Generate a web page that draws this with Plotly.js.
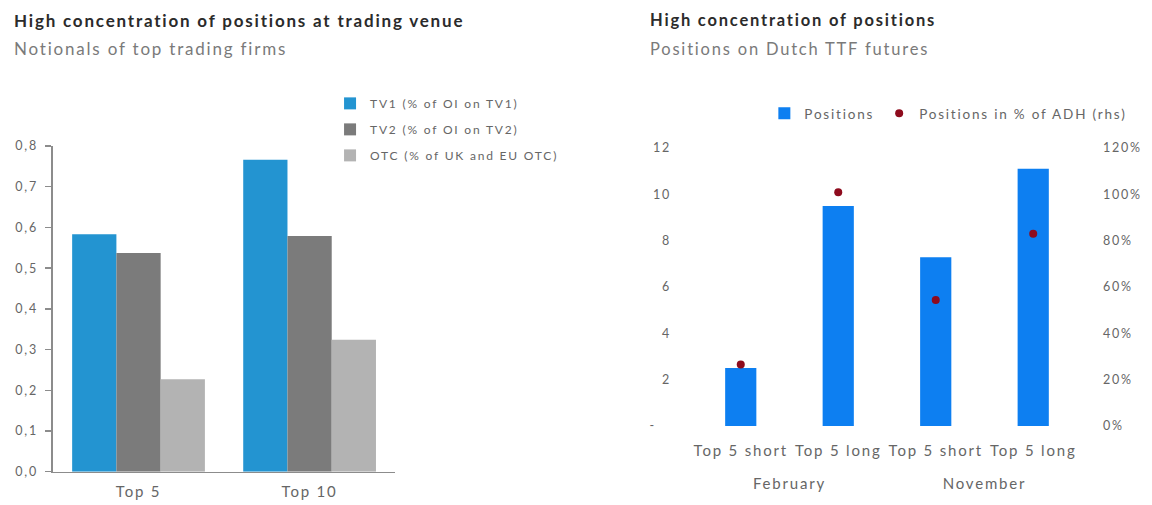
<!DOCTYPE html>
<html>
<head>
<meta charset="utf-8">
<script src="https://cdn.plot.ly/plotly-3.0.1.min.js"></script>
<style>
html,body{margin:0;padding:0;background:#fff;}
#chart{width:1152px;height:505px;}
text{letter-spacing:1.8px;}
g.x2tick2 text{translate:0 7px;}
</style>
</head>
<body>
<div id="chart"></div>
<script>
// Left chart data
const leftCategories = ["Top 5", "Top 10"];
const tv1Values = [0.583, 0.766];
const tv2Values = [0.537, 0.579];
const otcValues = [0.227, 0.324];
const leftSeriesNames = ["TV1 (% of OI on TV1)", "TV2 (% of OI on TV2)", "OTC (% of UK and EU OTC)"];

// Right chart data
const months = ["<br>February", "<br>February", "<br>November", "<br>November"];
const sides = ["Top 5 short", "Top 5 long", "Top 5 short", "Top 5 long"];
const positions = [2.5, 9.5, 7.28, 11.1];
const positionsPctADH = [26.6, 100.9, 54.4, 83.0];
const rightSeriesNames = ["Positions", "Positions in % of ADH (rhs)"];
const leftTickVals = [0, 2, 4, 6, 8, 10, 12];
const leftTickText = ["-\u00a0\u00a0\u00a0", "2", "4", "6", "8", "10", "12"];

const FONT = "Lato, 'Open Sans', sans-serif";
const GREY = "#666666";

const traces = [
  {type: "bar", x: leftCategories, y: tv1Values, name: leftSeriesNames[0], marker: {color: "#2394d1"}, xaxis: "x", yaxis: "y", legend: "legend", legendgroup: "a"},
  {type: "bar", x: leftCategories, y: tv2Values, name: leftSeriesNames[1], marker: {color: "#7b7b7b"}, xaxis: "x", yaxis: "y", legend: "legend", legendgroup: "b"},
  {type: "bar", x: leftCategories, y: otcValues, name: leftSeriesNames[2], marker: {color: "#b3b3b3"}, xaxis: "x", yaxis: "y", legend: "legend", legendgroup: "c"},
  {type: "bar", x: [months, sides], y: positions, name: rightSeriesNames[0], marker: {color: "#0d7ff1"}, xaxis: "x2", yaxis: "y2", legend: "legend2", width: 0.32},
  {type: "scatter", mode: "markers", x: [months, sides], y: positionsPctADH, name: rightSeriesNames[1], marker: {color: "#8e0b1d", size: 8}, xaxis: "x2", yaxis: "y3", legend: "legend2"}
];

const layout = {
  width: 1152, height: 505,
  margin: {l: 0, r: 0, t: 0, b: 0},
  paper_bgcolor: "#fff", plot_bgcolor: "rgba(0,0,0,0)",
  font: {family: FONT, size: 12, color: GREY},
  separators: ", ",
  barmode: "group", bargap: 0.224, bargroupgap: 0,
  showlegend: true,
  xaxis: {
    domain: [0.046, 0.343], anchor: "y",
    showline: true, linecolor: "#8c8c8c", linewidth: 1.5,
    ticks: "", tickfont: {size: 15, color: GREY}, ticklabelstandoff: 6,
    showgrid: false, fixedrange: true
  },
  yaxis: {
    domain: [0.0659, 0.7109], anchor: "x",
    range: [0, 0.8], dtick: 0.1, tickformat: ".1f",
    showline: true, linecolor: "#8c8c8c", linewidth: 1.5,
    ticks: "outside", ticklen: 6, tickcolor: "#8c8c8c", tickwidth: 1.5,
    tickfont: {size: 12.5, color: GREY}, ticklabelstandoff: 5,
    showgrid: false, zeroline: false, fixedrange: true
  },
  xaxis2: {
    domain: [0.6007, 0.9392], anchor: "y2", type: "multicategory",
    showline: false, showdividers: false, ticks: "",
    tickfont: {size: 15, color: GREY}, ticklabelstandoff: 14,
    showgrid: false, fixedrange: true
  },
  yaxis2: {
    domain: [0.1564, 0.7069], anchor: "x2",
    range: [0, 12], tickvals: leftTickVals, ticktext: leftTickText,
    showline: false, ticks: "", tickfont: {size: 12.5, color: GREY}, ticklabelstandoff: 20,
    showgrid: false, zeroline: false, fixedrange: true
  },
  yaxis3: {
    overlaying: "y2", side: "right", anchor: "x2",
    range: [0, 120], dtick: 20, ticksuffix: "%",
    showline: false, ticks: "", tickfont: {size: 12.5, color: GREY}, ticklabelstandoff: 20,
    showgrid: false, zeroline: false, fixedrange: true
  },
  legend: {
    x: 0.2865, y: 0.824, xanchor: "left", yanchor: "top",
    orientation: "v", traceorder: "grouped", tracegroupgap: 7,
    font: {size: 12, color: GREY}, bgcolor: "rgba(0,0,0,0)"
  },
  legend2: {
    x: 0.6635, y: 0.806, xanchor: "left", yanchor: "top",
    orientation: "h", font: {size: 13.5, color: GREY}, bgcolor: "rgba(0,0,0,0)",
    itemwidth: 30
  },
  annotations: [
    {text: "<b>High concentration of positions at trading venue</b>", x: 12/1152, y: 1 - 20/505, xref: "paper", yref: "paper", xanchor: "left", yanchor: "middle", showarrow: false, font: {family: FONT, size: 17, color: "#2b2b2b"}},
    {text: "Notionals of top trading firms", x: 12/1152, y: 1 - 49/505, xref: "paper", yref: "paper", xanchor: "left", yanchor: "middle", showarrow: false, font: {family: FONT, size: 17, color: "#7a7a7a"}},
    {text: "<b>High concentration of positions</b>", x: 648/1152, y: 1 - 20/505, xref: "paper", yref: "paper", xanchor: "left", yanchor: "middle", showarrow: false, font: {family: FONT, size: 16.5, color: "#2b2b2b"}},
    {text: "Positions on Dutch TTF futures", x: 648/1152, y: 1 - 49/505, xref: "paper", yref: "paper", xanchor: "left", yanchor: "middle", showarrow: false, font: {family: FONT, size: 16.5, color: "#7a7a7a"}}
  ]
};

Plotly.newPlot("chart", traces, layout, {displayModeBar: false, staticPlot: true});
</script>
</body>
</html>
